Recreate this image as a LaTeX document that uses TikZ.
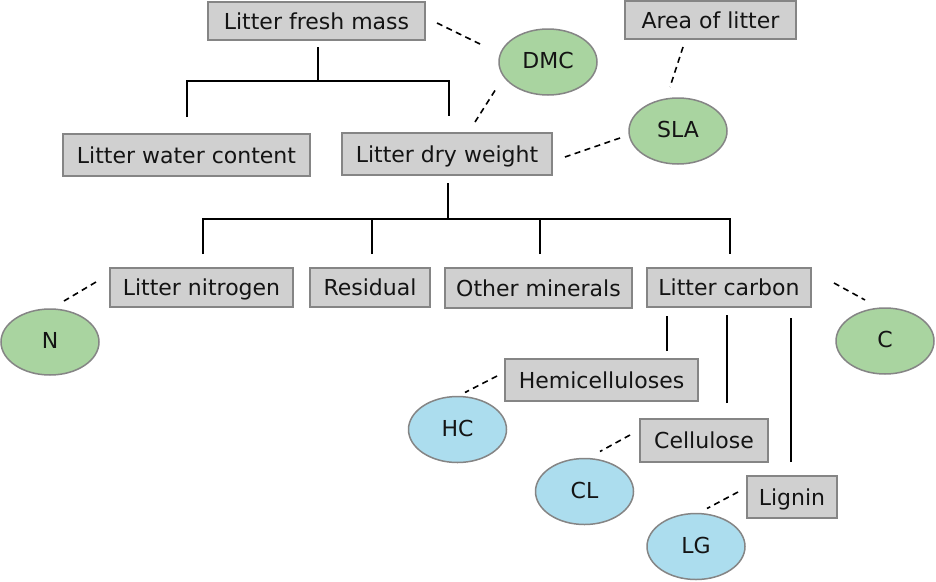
\documentclass[tikz,border=0pt]{standalone}
\usepackage{fontspec}
\setmainfont{DejaVu Sans}
\usetikzlibrary{shapes.geometric,calc}
\definecolor{boxfill}{HTML}{D0D0D0}
\definecolor{boxline}{HTML}{858585}
\definecolor{greenfill}{HTML}{A9D4A0}
\definecolor{bluefill}{HTML}{ACDDEE}
\definecolor{txt}{HTML}{141414}
\tikzset{
  box/.style={draw=boxline, fill=boxfill, line width=1.5pt, inner sep=0pt, outer sep=0pt,
    text height=16pt, text depth=0pt,
    font=\fontsize{22}{26}\selectfont, text=txt},
  gell/.style={ellipse, draw=boxline, fill=greenfill, line width=1.5pt, inner sep=0pt, outer sep=0pt,
    text height=13.5pt, text depth=0pt,
    minimum width=98pt, minimum height=66pt, font=\fontsize{22}{26}\selectfont, text=txt},
  bell/.style={gell, fill=bluefill},
  tree/.style={line width=2pt, black},
  dlink/.style={line width=1.6pt, black, dash pattern=on 6pt off 4.5pt}
}
\begin{document}
\begin{tikzpicture}[x=1pt,y=-1pt]
\path[use as bounding box, fill=white] (0,0) rectangle (936,581);
% boxes
\node[box, minimum width=217pt, minimum height=38pt] (fm) at (316.5,21) {Litter fresh mass};
\node[box, minimum width=171pt, minimum height=38pt] (area) at (710.5,20) {Area of litter};
\node[box, minimum width=247pt, minimum height=42pt] (wc) at (186.5,155) {Litter water content};
\node[box, minimum width=210pt, minimum height=42pt] (dw) at (447,154) {Litter dry weight};
\node[box, minimum width=183pt, minimum height=39pt] (ln) at (201.5,287.5) {Litter nitrogen};
\node[box, minimum width=120pt, minimum height=39pt] (res) at (370,287.5) {Residual};
\node[box, minimum width=187pt, minimum height=40pt] (om) at (538.5,288) {Other minerals};
\node[box, minimum width=164pt, minimum height=39pt] (lc) at (729,287.5) {Litter carbon};
\node[box, minimum width=193pt, minimum height=42pt] (hemi) at (601.5,380) {Hemicelluloses};
\node[box, minimum width=128pt, minimum height=43pt] (cell) at (704,440.5) {Cellulose};
\node[box, minimum width=90pt, minimum height=42pt] (lig) at (792,497) {Lignin};
% ellipses
\node[gell] (dmc) at (548,62) {DMC};
\node[gell] (sla) at (678,131) {SLA};
\node[gell] (n) at (50,342) {N};
\node[gell] (c) at (885,341) {C};
\node[bell] (hc) at (457.5,429.5) {HC};
\node[bell] (cl) at (584.5,491.5) {CL};
\node[bell] (lg) at (696,546.5) {LG};
% tree lines
\draw[tree] ($(fm.south)+(1.5,7)$) -- ($(fm.south)+(1.5,41)$);
\draw[tree] ($(wc.north)+(0.5,-17)$) |- ($(dw.north)+(2,-52)$) -- ($(dw.north)+(2,-17)$);
\draw[tree] ($(dw.south)+(1,8)$) -- ($(dw.south)+(1,44)$);
\draw[tree] ($(ln.north)+(1.5,-14)$) |- ($(lc.north)+(1,-49)$) -- ($(lc.north)+(1,-14)$);
\draw[tree] ($(res.north)+(2,-14)$) -- ($(res.north)+(2,-49)$);
\draw[tree] ($(om.north)+(1.5,-14)$) -- ($(om.north)+(1.5,-49)$);
\draw[tree] ($(hemi.north east)+(-31,-8)$) -- ($(lc.south)+(-62,9)$);
\draw[tree] ($(cell.north east)+(-41,-16)$) -- ($(lc.south)+(-2,8)$);
\draw[tree] ($(lig.north)+(-1,-14)$) -- ($(lc.south)+(62,11)$);
% dashed links
\draw[dlink] ($(fm.east)+(12,2)$) -- ($(dmc.west)+(-19,-18)$);
\draw[dlink] ($(dmc.south)+(-53,-4.5)$) -- ($(dw.north)+(28,-11)$);
\draw[dlink] ($(area.south)+(-27.5,8)$) -- ($(sla.north)+(-8,-11)$);
\draw[dlink] ($(sla.west)+(-9,7)$) -- ($(dw.east)+(13,3)$);
\draw[dlink] ($(ln.west)+(-14,-5.5)$) -- ($(n.north)+(14,-8)$);
\draw[dlink] ($(lc.east)+(23,-4.5)$) -- ($(c.north)+(-20,-8)$);
\draw[dlink] ($(hemi.west)+(-8,-4)$) -- ($(hc.north)+(7.5,-4)$);
\draw[dlink] ($(cell.west)+(-10,-5.5)$) -- ($(cl.north)+(15.5,-7)$);
\draw[dlink] ($(lig.west)+(-9,-5)$) -- ($(lg.north)+(11,-5)$);
\end{tikzpicture}
\end{document}
